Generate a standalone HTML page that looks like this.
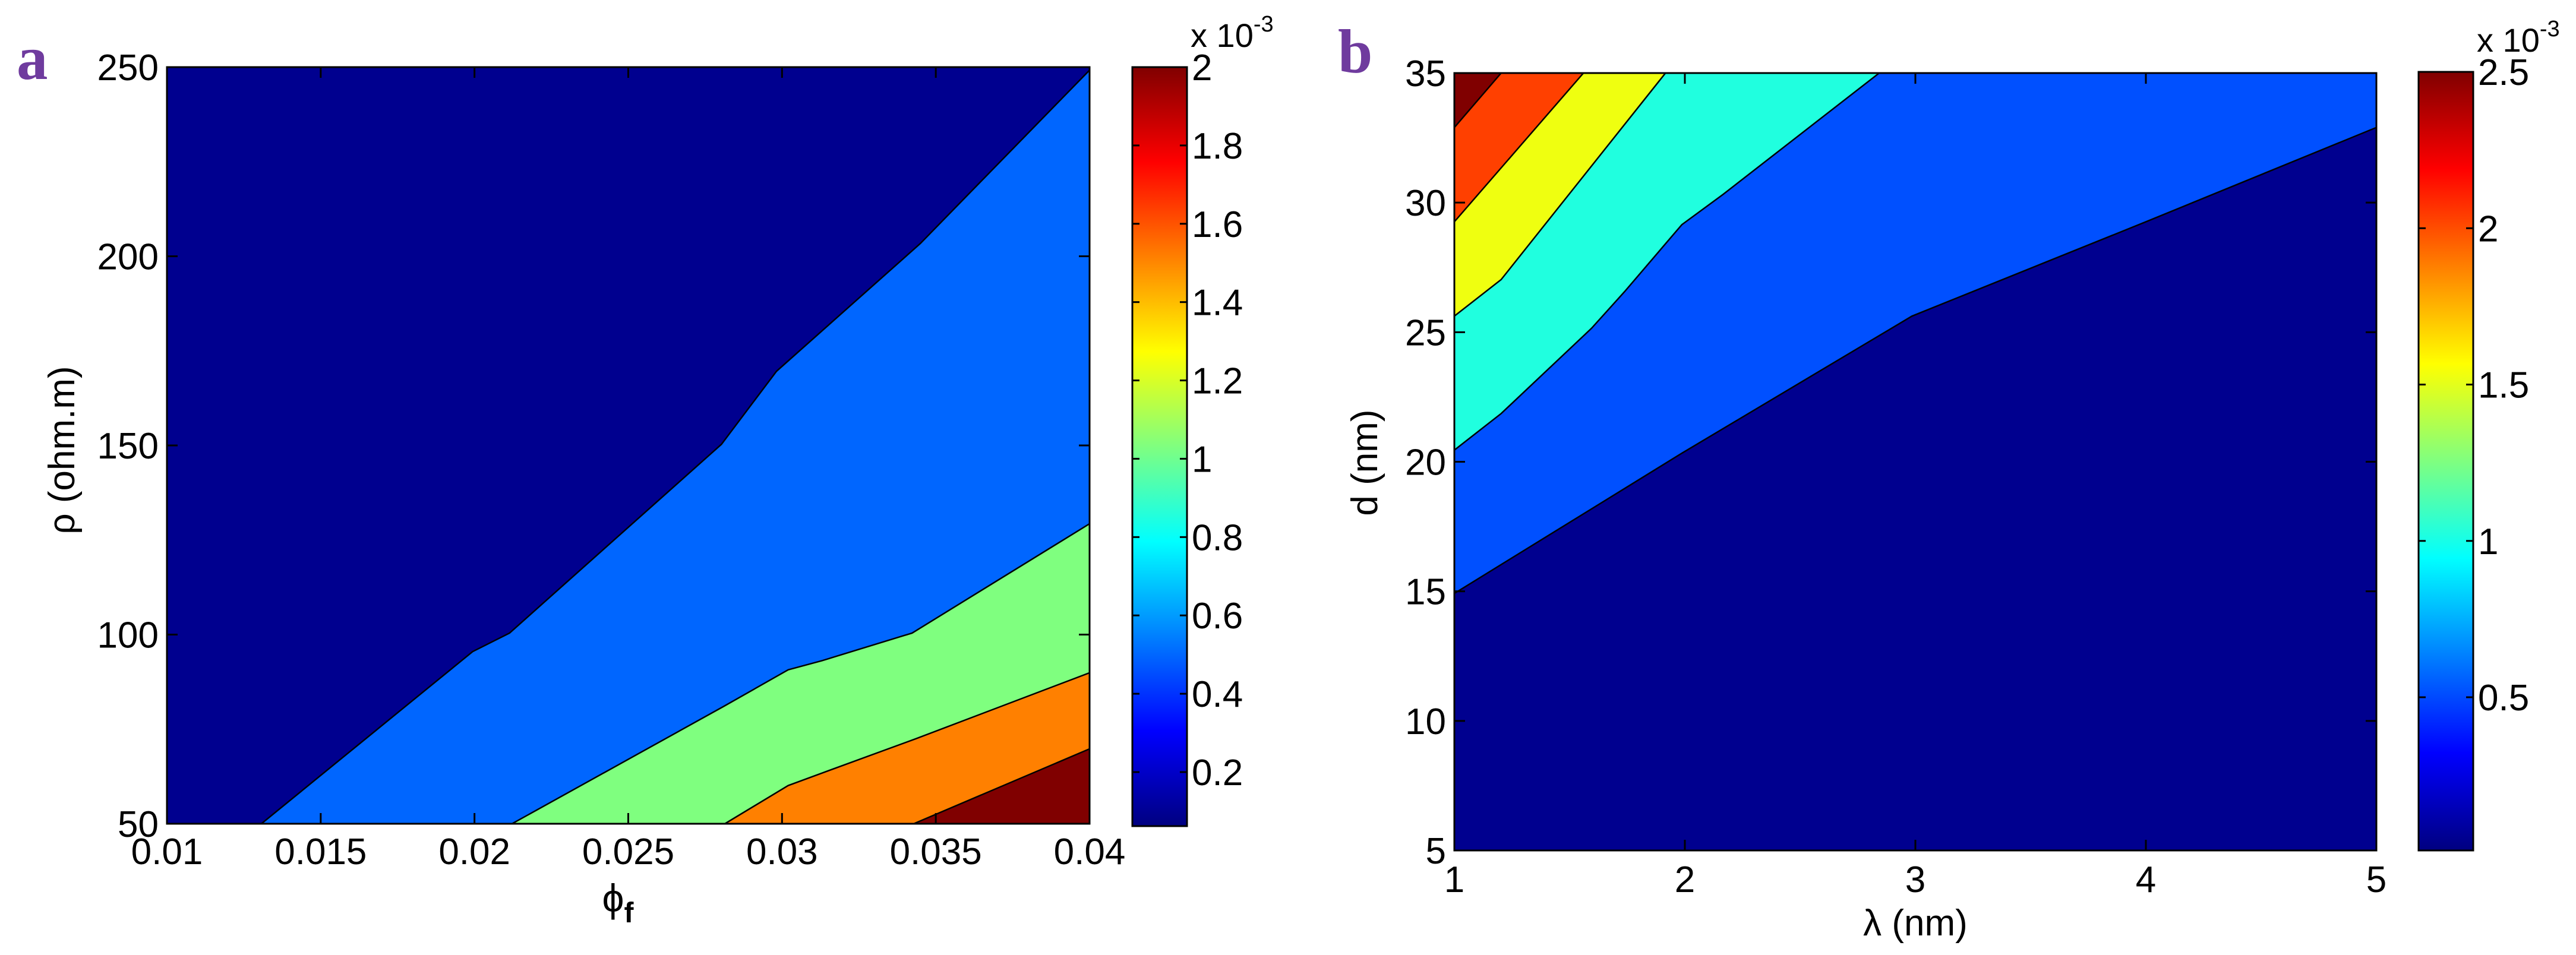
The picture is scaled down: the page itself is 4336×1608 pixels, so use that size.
<!DOCTYPE html>
<html><head><meta charset="utf-8"><style>
html,body{margin:0;padding:0;background:#fff;}
svg{display:block;font-family:"Liberation Sans",Arial,sans-serif;}
</style></head><body>
<svg id="fig" width="4336" height="1608" viewBox="0 0 4336 1608" xmlns="http://www.w3.org/2000/svg">
<defs>
<linearGradient id="jet" x1="0" y1="1" x2="0" y2="0">
<stop offset="0" stop-color="#000080"/><stop offset="0.125" stop-color="#0000ff"/>
<stop offset="0.375" stop-color="#00ffff"/><stop offset="0.625" stop-color="#ffff00"/>
<stop offset="0.875" stop-color="#ff0000"/><stop offset="1" stop-color="#800000"/>
</linearGradient>
</defs>
<text x="28" y="133" font-family="Liberation Serif,serif" font-weight="bold" font-size="105" fill="#6f3b9e">a</text>
<text x="2252" y="122" font-family="Liberation Serif,serif" font-weight="bold" font-size="105" fill="#6f3b9e">b</text>
<g id="pa"></g>
<g id="pb"></g>
</svg>
<script>
// Panel a data
const aXTicks = [0.01, 0.015, 0.02, 0.025, 0.03, 0.035, 0.04];
const aXTickLabels = ["0.01","0.015","0.02","0.025","0.03","0.035","0.04"];
const aYTicks = [50, 100, 150, 200, 250];
const aLevelColors = ["#0066ff", "#7fff7f", "#ff8000", "#800000"];
const aBoundary1 = [[0.01307,50],[0.01994,95.5],[0.02114,100.4],[0.02803,150.3],[0.02982,169.6],[0.0345,203.4],[0.04,249.2]];
const aBoundary2 = [[0.02122,50],[0.0281,81],[0.0302,90.7],[0.0313,93.1],[0.03423,100.4],[0.04,129.3]];
const aBoundary3 = [[0.02814,50],[0.0302,60.1],[0.0313,63.4],[0.03436,72.5],[0.04,89.9]];
const aBoundary4 = [[0.03428,50],[0.04,69.8]];
const aCbarTicks = [0.2,0.4,0.6,0.8,1,1.2,1.4,1.6,1.8,2];
const aCbarLabels = ["0.2","0.4","0.6","0.8","1","1.2","1.4","1.6","1.8","2"];
// Panel b data
const bXTicks = [1,2,3,4,5];
const bYTicks = [5,10,15,20,25,30,35];
const bLevelColors = ["#0050ff", "#20ffdf", "#efff10", "#ff4000", "#800000"];
const bBoundary1 = [[1,14.92],[1.987,20.33],[2.985,25.62],[4.0,29.26],[5,32.9]];
const bBoundary2 = [[1,20.45],[1.203,21.86],[1.595,25.15],[1.738,26.56],[1.987,29.15],[2.166,30.32],[2.843,35]];
const bBoundary3 = [[1,25.62],[1.203,27.03],[1.916,35]];
const bBoundary4 = [[1,29.26],[1.56,35]];
const bBoundary5 = [[1,32.9],[1.203,35]];
const bCbarTicks = [0.5,1,1.5,2,2.5];
const bCbarLabels = ["0.5","1","1.5","2","2.5"];

const NS="http://www.w3.org/2000/svg";
function mk(parent,tag,attrs,text){const e=document.createElementNS(NS,tag);for(const k in attrs)e.setAttribute(k,attrs[k]);if(text!==undefined)e.textContent=text;parent.appendChild(e);return e;}

function panel(g,cfg){
  const {L,R,T,B,xmin,xmax,ymin,ymax}=cfg;
  const sx=v=>L+(v-xmin)/(xmax-xmin)*(R-L);
  const sy=v=>B-(v-ymin)/(ymax-ymin)*(B-T);
  const bg=mk(g,'rect',{x:L,y:T,width:R-L,height:B-T,fill:'#00008f'});
  
  
  cfg.regions.forEach((r,i)=>{
    const pts=r.pts.concat(r.corners).map(p=>sx(p[0])+','+sy(p[1])).join(' ');
    const poly=mk(g,'polygon',{points:pts,fill:r.color});
    
    
    const line=mk(g,'polyline',{points:r.pts.map(p=>sx(p[0])+','+sy(p[1])).join(' '),fill:'none',stroke:'#000','stroke-width':2.5});
    
    
  });
  const fr=mk(g,'rect',{x:L,y:T,width:R-L,height:B-T,fill:'none',stroke:'#000','stroke-width':3});
  
  
  cfg.xt.forEach((v,i)=>{
    const x=sx(v);
    mk(g,'line',{x1:x,y1:B,x2:x,y2:B-18,stroke:'#000','stroke-width':3});
    mk(g,'line',{x1:x,y1:T,x2:x,y2:T+18,stroke:'#000','stroke-width':3});
    const t=mk(g,'text',{x:x,y:cfg.xly,'text-anchor':'middle','font-size':62},cfg.xl[i]);
    
    
  });
  cfg.yt.forEach(v=>{
    const y=sy(v);
    mk(g,'line',{x1:L,y1:y,x2:L+18,y2:y,stroke:'#000','stroke-width':3});
    mk(g,'line',{x1:R,y1:y,x2:R-18,y2:y,stroke:'#000','stroke-width':3});
    const t=mk(g,'text',{x:L-14,y:y+22,'text-anchor':'end','font-size':62},String(v));
    
    
  });
  const c=cfg.cb;
  const cy=v=>c.B-(v-c.vmin)/(c.vmax-c.vmin)*(c.B-c.T);
  const cr=mk(g,'rect',{x:c.L,y:c.T,width:c.R-c.L,height:c.B-c.T,fill:'url(#jet)',stroke:'#000','stroke-width':3});
  
  
  c.ticks.forEach((v,i)=>{
    const y=cy(v);
    mk(g,'line',{x1:c.L,y1:y,x2:c.L+12,y2:y,stroke:'#000','stroke-width':3});
    mk(g,'line',{x1:c.R,y1:y,x2:c.R-12,y2:y,stroke:'#000','stroke-width':3});
    const t=mk(g,'text',{x:c.R+8,y:y+22,'font-size':62},c.labels[i]);
    
    
  });
  const ex=mk(g,'text',{x:c.R+6,y:c.T-34,'font-size':56});
  
  
  mk(ex,'tspan',{},'x 10');
  mk(ex,'tspan',{dy:-26,'font-size':38},'-3');
}

panel(document.getElementById('pa'),{
  L:281,R:1834,T:113,B:1387,xmin:0.01,xmax:0.04,ymin:50,ymax:250,
  xt:aXTicks,xl:aXTickLabels,xly:1455,yt:aYTicks,
  regions:[
    {pts:aBoundary1,corners:[[0.04,50]],color:aLevelColors[0]},
    {pts:aBoundary2,corners:[[0.04,50]],color:aLevelColors[1]},
    {pts:aBoundary3,corners:[[0.04,50]],color:aLevelColors[2]},
    {pts:aBoundary4,corners:[[0.04,50]],color:aLevelColors[3]}],
  cb:{L:1906,R:1998,T:113,B:1391,vmin:0.062,vmax:2,ticks:aCbarTicks,labels:aCbarLabels}
});
panel(document.getElementById('pb'),{
  L:2448,R:4000,T:123,B:1432,xmin:1,xmax:5,ymin:5,ymax:35,
  xt:bXTicks,xl:bXTicks.map(String),xly:1502,yt:bYTicks,
  regions:[
    {pts:bBoundary1,corners:[[5,35],[1,35]],color:bLevelColors[0]},
    {pts:bBoundary2,corners:[[1,35]],color:bLevelColors[1]},
    {pts:bBoundary3,corners:[[1,35]],color:bLevelColors[2]},
    {pts:bBoundary4,corners:[[1,35]],color:bLevelColors[3]},
    {pts:bBoundary5,corners:[[1,35]],color:bLevelColors[4]}],
  cb:{L:4071,R:4163,T:121,B:1432,vmin:0.01,vmax:2.5,ticks:bCbarTicks,labels:bCbarLabels}
});
</script>
<svg style="position:absolute;left:0;top:0" width="4336" height="1608" viewBox="0 0 4336 1608" xmlns="http://www.w3.org/2000/svg" font-family="Liberation Sans,Arial,sans-serif">
<text transform="translate(125,758) rotate(-90)" text-anchor="middle" font-size="62">ρ (ohm.m)</text>
<text x="1040" y="1535" text-anchor="middle" font-size="66">ϕ<tspan font-size="48" dy="18" font-weight="bold">f</tspan></text>
<text transform="translate(2318,779) rotate(-90)" text-anchor="middle" font-size="62">d (nm)</text>
<text x="3224" y="1575" text-anchor="middle" font-size="62">λ (nm)</text>
</svg>
</body></html>
